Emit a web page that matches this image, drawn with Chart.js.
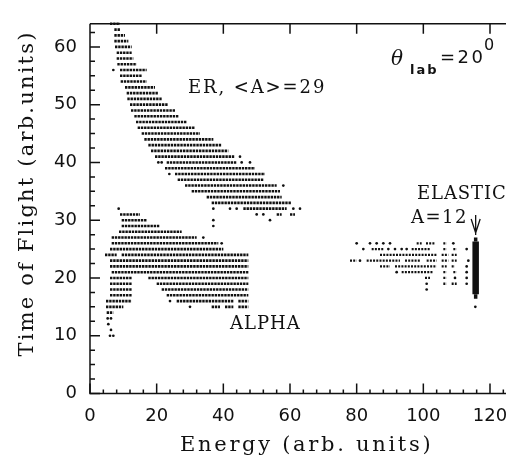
<!DOCTYPE html>
<html><head><meta charset="utf-8">
<script src="https://cdn.jsdelivr.net/npm/chart.js@4.4.1/dist/chart.umd.min.js"></script>
<style>html,body{margin:0;padding:0;background:#fff;overflow:hidden;width:506px;height:456px}</style>
</head><body>
<canvas id="c" width="540" height="456" style="display:block;width:540px;height:456px"></canvas>
<script>
// ---- axes ----
const xTicks = [0, 20, 40, 60, 80, 100, 120];
const yTicks = [0, 10, 20, 30, 40, 50, 60];
const xRange = [0, 130];
const yRange = [0, 64];

// ---- ER band rows: [timeOfFlight, energyStart, energyEnd] ----
const erRows = [
  [64, 6, 9], [63, 7.3, 9], [62, 7.3, 10.5], [61, 7.3, 11.5], [60, 7.5, 12.5],
  [59, 8, 12.5], [58, 8, 13], [57, 8.2, 14], [56, 9, 17], [55, 9, 15.5],
  [54, 9.2, 17], [53, 10.5, 19.5], [52, 11, 20.5], [51, 11.2, 21.5], [50, 12, 23.5],
  [49, 12.3, 25.5], [48, 13.3, 26.5], [47, 13.8, 29], [46, 14.3, 31.5], [45, 15.5, 33],
  [44, 16.3, 37], [43, 17.5, 39.5], [42, 18.3, 41.5], [41, 19.5, 43.5], [40, 23, 44],
  [39, 22.5, 49.5], [38, 25.5, 52.5], [37, 26.3, 52], [36, 28.5, 56], [35, 30.5, 57],
  [34, 35, 57.5], [33, 36.5, 60.5], [32, 46, 59], [31, 56, 57.5], [31, 60, 61.5]
];
const erDots = [
  [7, 56], [45, 41], [20.5, 40], [21.5, 40], [45.5, 40], [48, 40], [23.8, 38], [58, 36],
  [37, 32], [42, 32], [44, 32], [61, 32], [63, 32], [50, 31], [52, 31], [37, 30], [54, 30], [37, 29]
];

// ---- ALPHA rows ----
const alphaRows = [
  [31, 9, 15], [30, 9.5, 17], [29, 9.5, 21], [28, 8.7, 27.5], [27, 6.5, 32],
  [26, 6.5, 38.5], [25, 6, 40], [24, 4.5, 8], [24, 9.5, 47.5], [23, 6, 47.5],
  [22, 6, 47.5], [21, 6.5, 47.5], [20, 6, 12.5], [20, 17.5, 47.5], [19, 6, 12.5],
  [19, 20, 47.5], [18, 6, 12.5], [18, 21.5, 47.5], [17, 6, 12.5], [17, 23, 47.5],
  [16, 4.8, 12.5], [16, 26, 43], [16, 44.5, 47.5], [15, 4.8, 10], [15, 36.5, 39],
  [15, 40.5, 43], [15, 44.5, 47.5], [14, 5, 7]
];
const alphaDots = [
  [8.6, 32], [34, 27], [39.5, 26], [24, 16], [30, 15], [5.3, 13], [6.3, 13],
  [5.5, 12], [6.3, 11], [6, 10], [7, 10]
];

// ---- ELASTIC region rows ----
const elasticRows = [
  [26, 98, 99.5], [26, 100.8, 103.5], [26, 106, 107],
  [25, 84.5, 88], [25, 96.5, 102], [25, 106, 107], [25, 109, 110],
  [24, 87, 104], [24, 105.5, 107.5], [24, 108.5, 110],
  [23, 78, 80], [23, 83, 93], [23, 94.5, 99], [23, 101, 104], [23, 105.5, 107.5], [23, 108.5, 110],
  [22, 87, 90], [22, 91.5, 104], [22, 105.5, 107], [22, 108.5, 109.5],
  [21, 93.5, 103], [21, 106, 107], [21, 109, 110],
  [20, 100.5, 102], [20, 106, 107],
  [19, 106, 107], [19, 108.5, 110]
];
const elasticDots = [
  [80, 26], [84, 26], [86, 26], [88, 26], [90, 26], [109, 26],
  [82, 25], [89.5, 25], [91.5, 25], [93.5, 25], [95, 25], [113, 25],
  [81, 23], [113.5, 23], [113, 22], [92, 21], [113, 21], [109.5, 20], [113, 20],
  [101, 19], [113, 19], [101, 18], [115.6, 15]
];
// elastic peak column: [energy, tofStart, tofEnd]
const elasticColumn = [[115.7, 17.2, 26.3]];
const elasticTail = [[115.7, 16.4, 17.2], [115.7, 26.3, 27.0]];

const INK = '#111';

function rowsToLine(rows) {
  const pts = [];
  rows.forEach(([y, x0, x1]) => { pts.push({x: x0, y: y}, {x: x1, y: y}, {x: x1, y: null}); });
  return pts;
}
function colsToLine(cols) {
  const pts = [];
  cols.forEach(([x, y0, y1]) => { pts.push({x: x, y: y0}, {x: x, y: y1}, {x: x, y: null}); });
  return pts;
}
function dotsToPts(d) { return d.map(([x, y]) => ({x: x, y: y})); }

function rowSet(data, width, dash) {
  return {type: 'line', data: data, borderColor: INK, borderWidth: width, borderDash: dash,
    pointRadius: 0, spanGaps: false, fill: false, tension: 0, clip: 4};
}
function dotSet(data) {
  return {type: 'line', data: data, showLine: false, pointRadius: 1.35, pointHoverRadius: 1.35,
    pointBackgroundColor: INK, pointBorderWidth: 0, borderColor: INK, clip: 4};
}

const frameAndText = {
  id: 'frameAndText',
  afterDraw(chart) {
    const ctx = chart.ctx;
    const {left, top, right, bottom} = chart.chartArea;
    const xs = chart.scales.x, ys = chart.scales.y;
    ctx.save();
    ctx.strokeStyle = INK; ctx.fillStyle = INK; ctx.lineWidth = 1.5; ctx.lineCap = 'butt';
    ctx.beginPath();
    ctx.moveTo(left, top); ctx.lineTo(left, bottom); ctx.lineTo(right, bottom);
    ctx.moveTo(left, top); ctx.lineTo(right, top);
    ctx.stroke();
    // inward ticks
    ctx.beginPath();
    for (let v = xRange[0]; v <= xRange[1] + 1e-6; v += 4) {
      const p = xs.getPixelForValue(v);
      const len = (v % 20 === 0) ? 10 : 4;
      ctx.moveTo(p, bottom); ctx.lineTo(p, bottom - len);
    }
    for (let v = 20; v <= xRange[1]; v += 20) {
      const p = xs.getPixelForValue(v);
      ctx.moveTo(p, top); ctx.lineTo(p, top + 10);
    }
    for (let v = yRange[0]; v <= yRange[1] + 1e-6; v += 2.5) {
      const p = ys.getPixelForValue(v);
      const len = (v % 10 === 0) ? 10 : 5;
      ctx.moveTo(left, p); ctx.lineTo(left + len, p);
    }
    ctx.stroke();
    // arrow above elastic peak
    const ax = xs.getPixelForValue(115.7);
    ctx.lineWidth = 1.3;
    ctx.beginPath();
    ctx.moveTo(ax, 215); ctx.lineTo(ax, 235);
    ctx.moveTo(ax - 4.5, 219); ctx.lineTo(ax, 233); ctx.lineTo(ax + 4.5, 219);
    ctx.stroke();

    function txt(s, x, y, font, sp, align) {
      ctx.font = font; ctx.letterSpacing = (sp || 0) + 'px';
      ctx.textAlign = align || 'left'; ctx.textBaseline = 'alphabetic';
      ctx.fillText(s, x, y);
    }
    // axis titles
    txt('Energy (arb. units)', 180, 450.5, '21px "DejaVu Serif"', 2.7);
    ctx.save();
    ctx.translate(33, 193.5); ctx.rotate(-Math.PI / 2);
    txt('Time of Flight (arb.units)', 0, 0, '21px "DejaVu Serif"', 2.2, 'center');
    ctx.restore();
    // annotations
    txt('ER, <A>=29', 188, 93, '18px "DejaVu Serif"', 1.9);
    txt('ALPHA', 230, 328.5, '18px "DejaVu Serif"', 1);
    txt('ELASTIC', 417, 198.5, '18px "DejaVu Serif"', 0.9);
    txt('A=12', 411, 222.5, '18px "DejaVu Serif"', 1.5);
    txt('\u03B8', 391, 65, 'italic 20px "DejaVu Serif"', 0);
    txt('lab', 410, 74, 'bold 13px "DejaVu Sans"', 2);
    txt('=20', 440, 63.3, '18px "DejaVu Sans"', 2.5);
    txt('0', 484, 50, '16px "DejaVu Sans"', 0);
    ctx.restore();
  }
};

new Chart(document.getElementById('c'), {
  type: 'line',
  data: {
    datasets: [
      rowSet(rowsToLine(erRows), 2.6, [2.4, 0.8]),
      rowSet(rowsToLine(alphaRows), 2.6, [2.4, 0.8]),
      rowSet(rowsToLine(elasticRows), 2.3, [2, 1.2]),
      rowSet(colsToLine(elasticColumn), 6.5, []),
      rowSet(colsToLine(elasticTail), 3.5, []),
      dotSet(dotsToPts(erDots)),
      dotSet(dotsToPts(alphaDots)),
      dotSet(dotsToPts(elasticDots))
    ]
  },
  options: {
    responsive: false,
    animation: false,
    events: [],
    layout: {padding: {left: 0, top: 13.5, right: 540 - (90 + 130 * 10 / 3), bottom: 0}},
    plugins: {legend: {display: false}, tooltip: {enabled: false}, title: {display: false}},
    scales: {
      x: {
        type: 'linear', min: xRange[0], max: xRange[1],
        afterBuildTicks: s => { s.ticks = xTicks.map(v => ({value: v})); },
        afterFit: s => { s.height = 456 - 393.5; },
        ticks: {font: {family: 'DejaVu Sans', size: 18}, color: INK, padding: 12, maxRotation: 0, autoSkip: false},
        grid: {display: false, drawTicks: false},
        border: {display: false}
      },
      y: {
        type: 'linear', min: yRange[0], max: yRange[1],
        afterBuildTicks: s => { s.ticks = yTicks.map(v => ({value: v})); },
        afterFit: s => { s.width = 90; },
        ticks: {font: {family: 'DejaVu Sans', size: 18}, color: INK, padding: 13, autoSkip: false},
        grid: {display: false, drawTicks: false},
        border: {display: false}
      }
    }
  },
  plugins: [frameAndText]
});
</script>
</body></html>
